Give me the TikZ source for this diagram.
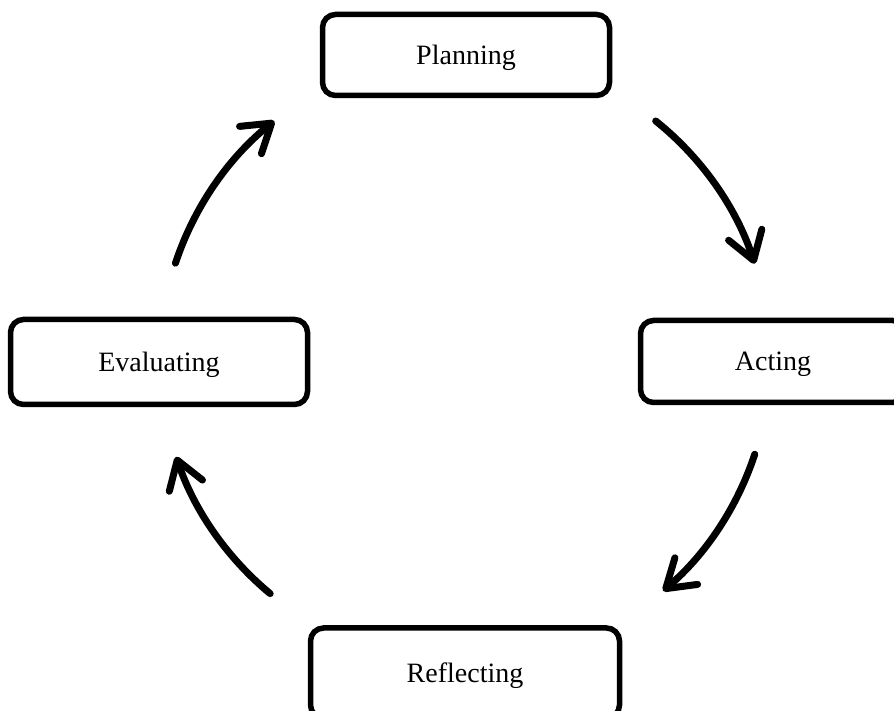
\documentclass[tikz,border=0pt]{standalone}
\usepackage{fontspec}
\setmainfont{Liberation Serif}
\usetikzlibrary{arrows.meta,calc}
\begin{document}
\begin{tikzpicture}[x=1pt,y=1pt,
  stagebox/.style={draw=black,line width=5.5pt,rounded corners=13pt,fill=white,
    font=\fontsize{28}{33}\selectfont,inner sep=0pt,text height=19pt,text depth=0pt},
  cyc/.style={line width=7pt,line cap=round,
    -{Straight Barb[length=27pt,width=35pt,round]}}]
\useasboundingbox (0,0) rectangle (894,711);
\clip (0,0) rectangle (894,711);
\fill[white] (0,0) rectangle (894,711);
\coordinate (c) at (465,352);
\node[stagebox,minimum width=287pt,minimum height=81pt] (plan) at (466,656) {Planning};
\node[stagebox,minimum width=265pt,minimum height=82pt] (act) at (773,349.5) {Acting};
\node[stagebox,minimum width=309pt,minimum height=90pt] (refl) at (465,38) {Reflecting};
\node[stagebox,minimum width=297pt,minimum height=85pt] (eval) at (159,349) {Evaluating};
\coordinate (s1) at ($(c)+(51.3:305)$);
\coordinate (s2) at ($(c)+(-18.2:305)$);
\coordinate (s3) at ($(c)+(-129.7:305)$);
\coordinate (s4) at ($(c)+(161.7:305)$);
\draw[cyc] (s1) arc[start angle=51.3,end angle=18.2,radius=305];
\draw[cyc] (s2) arc[start angle=-18.2,end angle=-49.5,radius=305];
\draw[cyc] (s3) arc[start angle=-129.7,end angle=-161.3,radius=305];
\draw[cyc] (s4) arc[start angle=161.7,end angle=128.7,radius=305];
\end{tikzpicture}
\end{document}
